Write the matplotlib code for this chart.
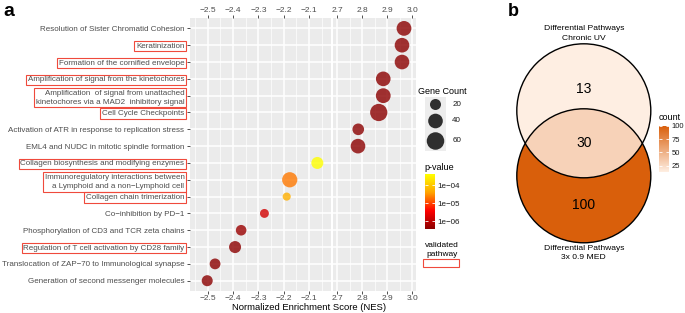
import numpy as np
import matplotlib
matplotlib.use("Agg")
import matplotlib.pyplot as plt
from matplotlib.colors import LinearSegmentedColormap, LogNorm, Normalize
from matplotlib.cm import ScalarMappable
from matplotlib.patches import Circle, Rectangle
from matplotlib.ticker import MultipleLocator, FuncFormatter, NullLocator

plt.rcParams['font.family'] = ['Liberation Sans', 'DejaVu Sans']

# ---- data (panel a) ----
pathways = [
    "Resolution of Sister Chromatid Cohesion",
    "Keratinization",
    "Formation of the cornified envelope",
    "Amplification of signal from the kinetochores",
    "Amplification  of signal from unattached\nkinetochores via a MAD2  inhibitory signal",
    "Cell Cycle Checkpoints",
    "Activation of ATR in response to replication stress",
    "EML4 and NUDC in mitotic spindle formation",
    "Collagen biosynthesis and modifying enzymes",
    "Immunoregulatory interactions between\na Lymphoid and a non\u2212Lymphoid cell",
    "Collagen chain trimerization",
    "Co\u2212inhibition by PD\u22121",
    "Phosphorylation of CD3 and TCR zeta chains",
    "Regulation of T cell activation by CD28 family",
    "Translocation of ZAP\u221270 to Immunological synapse",
    "Generation of second messenger molecules",
]
nes = [2.967, 2.959, 2.959, 2.884, 2.884, 2.866, 2.784, 2.783,
       -2.067, -2.176, -2.188, -2.276, -2.368, -2.392, -2.471, -2.502]
gene_count = [41, 40, 40, 40, 41, 58, 23, 40, 25, 44, 8, 11, 18, 25, 19, 20]
pvalue = [3.6e-7, 3.6e-7, 3.6e-7, 3.6e-7, 3.6e-7, 3.6e-7, 3.6e-7, 3.6e-7,
          4.1e-4, 2.1e-5, 5.0e-5, 1.5e-6, 5.0e-7, 3.6e-7, 3.6e-7, 3.6e-7]
validated = [False, True, True, True, True, True, False, False,
             True, True, True, False, False, True, False, False]

size_legend = [20, 40, 60]
p_ticks = [1e-4, 1e-5, 1e-6]
p_tick_labels = ["1e\u221204", "1e\u221205", "1e\u221206"]

# ---- data (panel b) ----
venn_sets = ["Differential Pathways\nChronic UV", "Differential Pathways\n3x 0.9 MED"]
venn_counts = [13, 30, 100]   # UV only, both, MED only
count_ticks = [25, 50, 75, 100]

W, H = 685, 313
RED = '#EF4A3C'
TXT = '#4D4D4D'


def box(x0, y0, x1, y1):
    return [x0 / W, 1 - y1 / H, (x1 - x0) / W, (y1 - y0) / H]


def size_of(c):
    return 15 + 2.4 * np.asarray(c, dtype=float)


fig = plt.figure(figsize=(W / 100, H / 100), dpi=100)

cmap = LinearSegmentedColormap.from_list("pv", ["#8B0000", "#FF0000", "#FFA500", "#FFFF00"])
norm = LogNorm(vmin=min(pvalue), vmax=max(pvalue))

y = np.arange(len(pathways))
nes_a = np.array(nes)
axL = fig.add_axes(box(190, 18.3, 331, 290.8))
axR = fig.add_axes(box(333, 18.3, 416, 290.8))
fmt = FuncFormatter(lambda v, _: f"{v:.1f}".replace("-", "\u2212"))

for ax, mask, lims in [(axL, nes_a < 0, (-2.57, -2.013)), (axR, nes_a > 0, (2.683, 3.015))]:
    ax.set_facecolor('#EBEBEB')
    for s in ax.spines.values():
        s.set_visible(False)
    ax.set_axisbelow(True)
    ax.scatter(nes_a[mask], y[mask], s=size_of(np.array(gene_count)[mask]),
               c=np.array(pvalue)[mask], cmap=cmap, norm=norm, alpha=0.8,
               edgecolors='none', zorder=3)
    ax.set_xlim(*lims)
    ax.set_ylim(len(pathways) - 1 + 0.6, -0.6)
    ax.xaxis.set_major_locator(MultipleLocator(0.1))
    ax.xaxis.set_minor_locator(MultipleLocator(0.05))
    ax.xaxis.set_major_formatter(fmt)
    ax.set_yticks(y)
    ax.grid(which='major', color='white', lw=1.1)
    ax.grid(which='minor', axis='x', color='white', lw=0.5)
    ax.tick_params(axis='x', which='major', top=True, labeltop=True, bottom=True,
                   labelbottom=True, length=2, width=0.6, color='#333333',
                   labelsize=6, labelcolor=TXT, pad=1.2)
    ax.tick_params(axis='x', which='minor', length=0)

axL.set_yticklabels(pathways, fontsize=5.8, color=TXT, linespacing=1.4)
axL.tick_params(axis='y', length=2, width=0.6, color='#333333', pad=2.0)
for lbl, v in zip(axL.get_yticklabels(), validated):
    lbl.set_multialignment('right')
    if v:
        lbl.set_bbox(dict(boxstyle='square,pad=0.22', fc='none', ec=RED, lw=0.8))
axR.tick_params(axis='y', left=False, labelleft=False)

fig.text(309 / W, 1 - 307 / H, "Normalized Enrichment Score (NES)",
         fontsize=6.8, ha='center', va='center')
fig.text(9 / W, 1 - 11 / H, "a", fontsize=14, fontweight='bold', ha='center', va='center')

# Gene Count legend
fig.text(418 / W, 1 - 91 / H, "Gene Count", fontsize=6.5, ha='left', va='center')
axS = fig.add_axes(box(425, 97, 446, 151))
axS.set_facecolor('#EDEDED')
for s in axS.spines.values():
    s.set_visible(False)
axS.set_xticks([])
axS.set_yticks([])
key_y = [104.5, 121, 141]
axS.set_xlim(0, 1)
axS.set_ylim(151, 97)
axS.scatter([0.5] * 3, key_y, s=size_of(size_legend), color='black', alpha=0.8,
            edgecolors='none')
for yk, c in zip(key_y, size_legend):
    axS.text(1.3, yk, str(c), fontsize=5.8, color='#1A1A1A', va='center', ha='left')

# p-value colorbar
fig.text(424 / W, 1 - 167 / H, "p-value", fontsize=6.5, ha='left', va='center')
cax = fig.add_axes(box(425, 174, 435, 229))
cb = fig.colorbar(ScalarMappable(norm=norm, cmap=cmap), cax=cax)
cb.outline.set_visible(False)
cb.set_ticks(p_ticks)
cb.set_ticklabels(p_tick_labels)
cax.yaxis.set_minor_locator(NullLocator())
cax.tick_params(length=2, width=0.6, color='white', direction='in', left=True,
                right=True, labelsize=5.8, labelcolor='#1A1A1A', pad=2)

# validated pathway key
fig.text(442 / W, 1 - 250 / H, "validated\npathway", fontsize=6, ha='center',
         va='center', linespacing=1.35)
fig.patches.append(Rectangle((423 / W, 1 - 267 / H), 36 / W, 8 / H,
                             transform=fig.transFigure, fill=False, ec=RED, lw=0.8))

# ---- panel b: Venn ----
fig.text(513 / W, 1 - 11 / H, "b", fontsize=13, fontweight='bold', ha='center', va='center')
R = 67.0
axV = fig.add_axes(box(583.8 - 75, 143.3 - 105, 583.8 + 75, 143.3 + 105))
axV.set_xlim(-75 / R, 75 / R)
axV.set_ylim(-105 / R, 105 / R)
axV.axis('off')
vnorm = Normalize(vmin=min(venn_counts), vmax=max(venn_counts))
vcmap = LinearSegmentedColormap.from_list('cnt', ['#FEEEE2', '#D95F0B'])
d = 0.485
top = Circle((0, d), 1, fc=vcmap(vnorm(venn_counts[0])), ec='none')
bottom = Circle((0, -d), 1, fc=vcmap(vnorm(venn_counts[2])), ec='none')
inter = Circle((0, d), 1, fc=vcmap(vnorm(venn_counts[1])), ec='none')
axV.add_patch(top)
axV.add_patch(bottom)
axV.add_patch(inter)
inter.set_clip_path(bottom)
axV.add_patch(Circle((0, d), 1, fc='none', ec='black', lw=1.0))
axV.add_patch(Circle((0, -d), 1, fc='none', ec='black', lw=1.0))
axV.text(0, 0.806, str(venn_counts[0]), fontsize=10, ha='center', va='center')
axV.text(0, 0.0, str(venn_counts[1]), fontsize=10, ha='center', va='center')
axV.text(0, -0.92, str(venn_counts[2]), fontsize=10, ha='center', va='center')
axV.text(0, 1.64, venn_sets[0], fontsize=6.1, ha='center', va='center', linespacing=1.5)
axV.text(0, -1.64, venn_sets[1], fontsize=6.1, ha='center', va='center', linespacing=1.5)

fig.text(659 / W, 1 - 118 / H, "count", fontsize=6.5, ha='left', va='center')
cax2 = fig.add_axes(box(659, 126, 669, 172))
cb2 = fig.colorbar(ScalarMappable(norm=vnorm, cmap=vcmap), cax=cax2)
cb2.outline.set_visible(False)
cb2.set_ticks(count_ticks)
cax2.tick_params(length=2, width=0.6, color='white', direction='in', left=True,
                 right=True, labelsize=5.5, labelcolor='#1A1A1A', pad=2)

fig.savefig("out.png", dpi=100)
